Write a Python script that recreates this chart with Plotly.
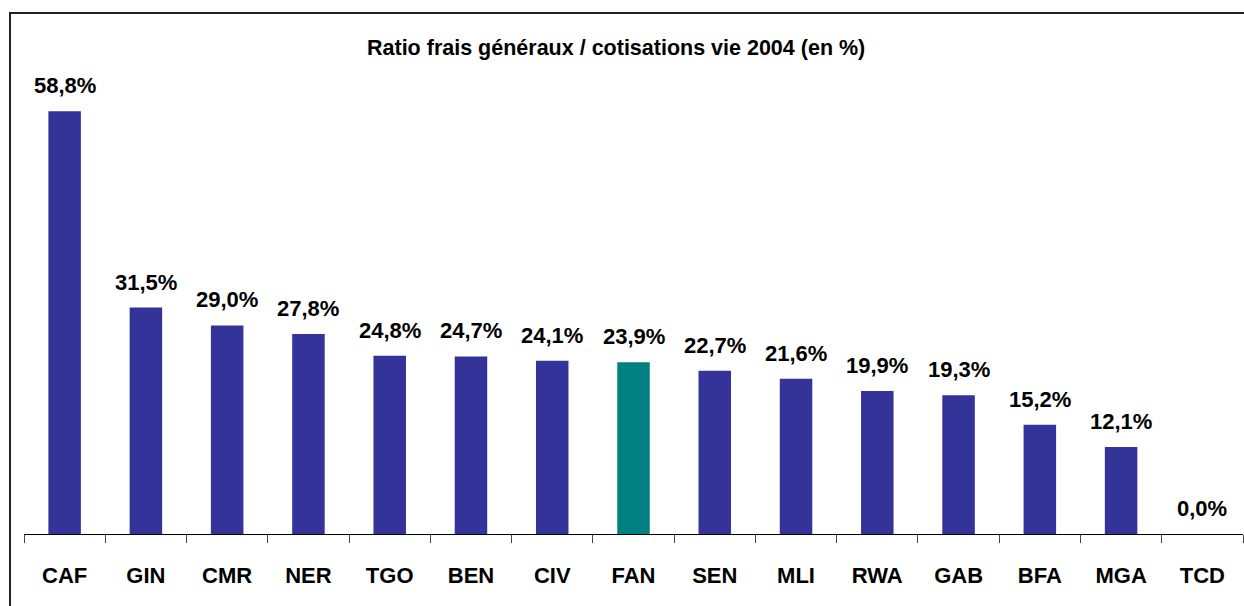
import plotly.graph_objects as go

# Ratio of overhead costs to life-insurance premiums, 2004 (%)
countries = ["CAF", "GIN", "CMR", "NER", "TGO", "BEN", "CIV", "FAN",
             "SEN", "MLI", "RWA", "GAB", "BFA", "MGA", "TCD"]
ratios = [58.8, 31.5, 29.0, 27.8, 24.8, 24.7, 24.1, 23.9,
          22.7, 21.6, 19.9, 19.3, 15.2, 12.1, 0.0]
highlight = "FAN"

title_text = "Ratio frais généraux / cotisations vie 2004 (en %)"

BAR_COLOR = "#333399"
HIGHLIGHT_COLOR = "#008080"
FONT = "Arial, Liberation Sans, sans-serif"

W, H = 1244, 606
M_L, M_R, M_T, M_B = 24, 1, 60, 72
plot_w = W - M_L - M_R
plot_h = H - M_T - M_B

colors = [HIGHLIGHT_COLOR if c == highlight else BAR_COLOR for c in countries]
labels = [f"{v:.1f}".replace(".", ",") + "%" for v in ratios]

fig = go.Figure(
    go.Bar(
        x=countries,
        y=ratios,
        marker=dict(color=colors, line=dict(width=0)),
        width=0.4,
        hoverinfo="x+y",
    )
)

# value labels above each bar
for c, v, t in zip(countries, ratios, labels):
    fig.add_annotation(
        x=c, y=v, text=f"<b>{t}</b>", showarrow=False,
        xanchor="center", yanchor="bottom", yshift=11,
        font=dict(family=FONT, size=22, color="black"),
    )

# chart title
fig.add_annotation(
    xref="paper", yref="paper",
    x=(616 - M_L) / plot_w, y=(H - M_B - 48) / plot_h,
    text=f"<b>{title_text}</b>", showarrow=False,
    xanchor="center", yanchor="middle",
    font=dict(family=FONT, size=21.5, color="black"),
)

# outer chart frame
fig.add_shape(
    type="rect", xref="paper", yref="paper",
    x0=(10 - M_L) / plot_w, x1=(W + 20 - M_L) / plot_w,
    y0=(H - M_B - 13) / plot_h, y1=-(40 + M_B) / plot_h,
    line=dict(color="#222222", width=2),
    fillcolor="rgba(0,0,0,0)", layer="above",
)

fig.update_layout(
    width=W, height=H,
    margin=dict(l=M_L, r=M_R, t=M_T, b=M_B),
    paper_bgcolor="white", plot_bgcolor="white",
    showlegend=False,
    bargap=0.6,
    font=dict(family=FONT, color="black"),
)

fig.update_xaxes(
    showline=True, linecolor="black", linewidth=1,
    ticks="outside", tickson="boundaries", ticklen=8,
    tickcolor="#444444", tickwidth=1,
    tickfont=dict(family=FONT, size=22, color="black", weight="bold"),
    ticklabelstandoff=22,
    showgrid=False, zeroline=False,
)
fig.update_yaxes(
    range=[0, plot_h / 7.19],
    visible=False, showgrid=False, zeroline=False,
)

fig.write_html("out.html")
